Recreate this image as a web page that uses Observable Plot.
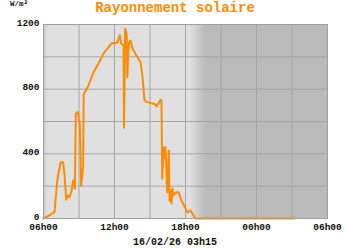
<!DOCTYPE html>
<html>
<head>
<meta charset="utf-8">
<script src="https://cdn.jsdelivr.net/npm/d3@7"></script>
<script src="https://cdn.jsdelivr.net/npm/@observablehq/plot@0.6"></script>
<style>
  html, body { margin: 0; padding: 0; background: #ffffff; }
  #wrap { position: relative; width: 350px; height: 250px; overflow: hidden; }
  #chart { position: absolute; left: 0; top: 0; }
  .t { position: absolute; font-family: "Liberation Mono", "DejaVu Sans Mono", monospace; font-weight: bold; line-height: 1; white-space: nowrap; }
  #title { left: 0; width: 350px; text-align: center; top: 1px; font-size: 14px; color: #ff8c00; }
  #unit { left: 10px; top: 1px; font-size: 7.5px; color: #111; }
  #caption { left: 0; width: 350px; text-align: center; top: 238px; font-size: 10px; color: #111; }
</style>
</head>
<body>
<div id="wrap">
  <div id="chart"></div>
  <div class="t" id="title">Rayonnement solaire</div>
  <div class="t" id="unit">W/m²</div>
  <div class="t" id="caption">16/02/26 03h15</div>
</div>
<script>
// Time of day in hours (06h00 = 6, next day 06h00 = 30)
const hours = [
  6.0, 6.45, 6.93, 7.16, 7.44, 7.66, 7.77, 7.92, 8.05, 8.2, 8.37, 8.5, 8.65, 8.73, 8.9,
  9.07, 9.18, 9.35, 9.4, 9.8, 10.22, 10.65, 11.07, 11.49, 11.75, 12.25, 12.45, 12.55,
  12.77, 12.8, 12.9, 12.98, 13.04, 13.08, 13.15, 13.23, 13.35, 13.52, 13.77, 14.2, 14.34,
  14.54, 14.76, 15.21, 15.46, 15.55, 15.89, 15.97, 16.03, 16.17, 16.23, 16.31, 16.45,
  16.59, 16.65, 16.73, 16.82, 16.9, 16.99, 17.16, 17.41, 17.66, 17.92, 18.17, 18.42,
  18.68, 18.85, 27.21
];
// Solar radiation in W/m²
const values = [
  0, 18, 39, 235, 348, 348, 278, 116, 142, 132, 169, 235, 184, 648, 658,
  586, 204, 317, 767, 823, 903, 959, 1021, 1058, 1083, 1089, 1134, 1083,
  1070, 561, 1173, 1160, 1120, 874, 1000, 1089, 1101, 1052, 1019, 967, 895,
  730, 720, 711, 705, 693, 734, 730, 246, 441, 371, 441, 163,
  421, 111, 173, 93, 186, 142, 161, 163, 111, 74, 37, 50,
  19, 0, 0
];
const xTicks = [6, 12, 18, 24, 30];
const xGrid = [9, 12, 15, 18, 21, 24, 27];
const yTicks = [0, 400, 800, 1200];
const yGrid = [200, 400, 600, 800, 1000];
const xDomain = [6, 30];
const yDomain = [0, 1200];
// Twilight periods (hours)
const dawn = [{x1: 6, x2: 6.4}];
const night = [{x1: 18.4, x2: 30}];

const data = hours.map((h, i) => ({h, v: values[i]}));
const fmt = h => String(h % 24).padStart(2, "0") + "h00";

const defs = () => {
  const d = d3.create("svg:defs");
  const g = d.append("linearGradient").attr("id", "nightGrad").attr("x1", 0).attr("x2", 1).attr("y1", 0).attr("y2", 0);
  g.append("stop").attr("offset", 0).attr("stop-color", "#e0e0e0");
  g.append("stop").attr("offset", 0.04).attr("stop-color", "#d2d2d2");
  g.append("stop").attr("offset", 0.115).attr("stop-color", "#bababa");
  g.append("stop").attr("offset", 1).attr("stop-color", "#bababa");
  const g2 = d.append("linearGradient").attr("id", "dawnGrad").attr("x1", 0).attr("x2", 1).attr("y1", 0).attr("y2", 0);
  g2.append("stop").attr("offset", 0).attr("stop-color", "#c8c8c8");
  g2.append("stop").attr("offset", 1).attr("stop-color", "#e0e0e0");
  return d.node();
};

const chart = Plot.plot({
  width: 350,
  height: 250,
  marginTop: 24,
  marginBottom: 32,
  marginLeft: 43,
  marginRight: 23,
  style: {
    fontFamily: "'Liberation Mono', 'DejaVu Sans Mono', monospace",
    fontWeight: "bold",
    fontSize: "9.5px",
    color: "#111",
    background: "transparent"
  },
  x: {domain: xDomain, label: null},
  y: {domain: yDomain, label: null},
  marks: [
    defs,
    Plot.frame({fill: "#e0e0e0"}),
    Plot.rect(dawn, {x1: "x1", x2: "x2", y1: yDomain[0], y2: yDomain[1], fill: "url(#dawnGrad)"}),
    Plot.rect(night, {x1: "x1", x2: "x2", y1: yDomain[0], y2: yDomain[1], fill: "url(#nightGrad)"}),
    Plot.ruleX(xGrid, {stroke: "#a6a6a6", strokeWidth: 1}),
    Plot.ruleY(yGrid, {stroke: "#a6a6a6", strokeWidth: 1}),
    Plot.line(data, {x: "h", y: "v", stroke: "#ff8c00", strokeWidth: 2, strokeLinejoin: "round"}),
    Plot.frame({stroke: "#a0a0a0", strokeWidth: 1}),
    Plot.axisY(yTicks, {tickSize: 0, tickPadding: 4, dy: -2, tickFormat: d => String(d), label: null}),
    Plot.axisX(xTicks, {tickSize: 0, tickPadding: 5, tickFormat: fmt, label: null})
  ]
});
document.getElementById("chart").appendChild(chart);
</script>
</body>
</html>
